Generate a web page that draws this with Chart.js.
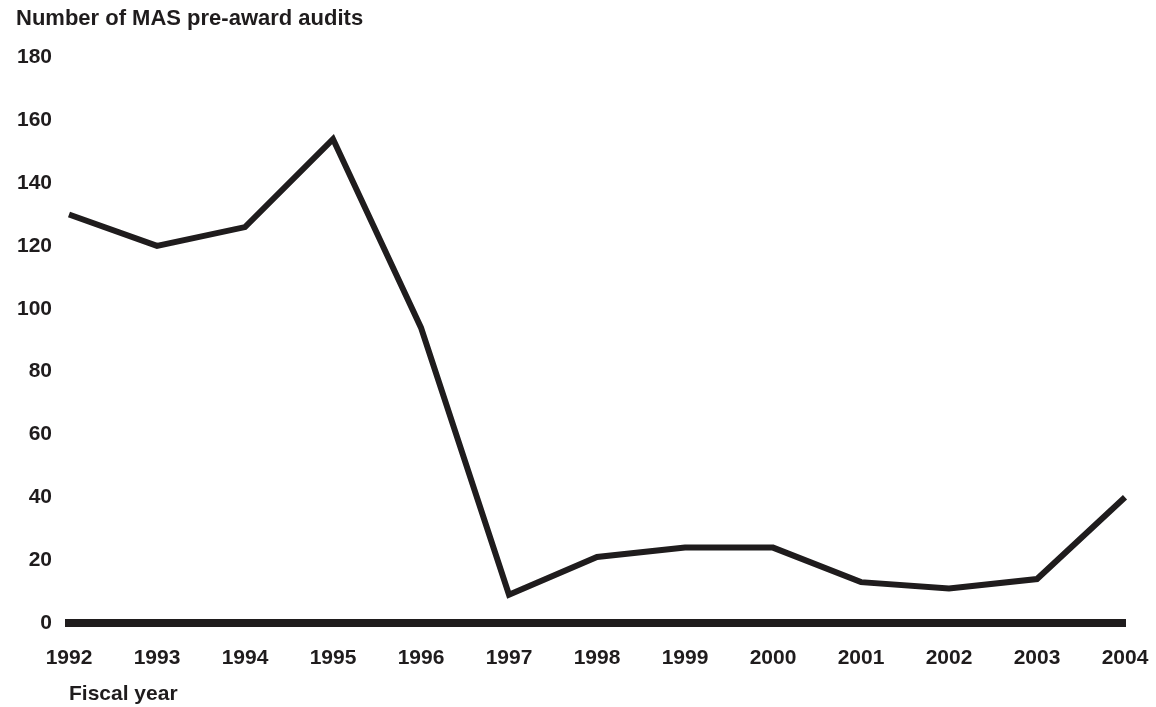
<!DOCTYPE html>
<html>
<head>
<meta charset="utf-8">
<script src="https://cdn.jsdelivr.net/npm/chart.js@4/dist/chart.umd.min.js"></script>
<style>
  html, body { margin: 0; padding: 0; background: #ffffff; }
  #wrap { width: 1156px; height: 707px; position: relative; }
</style>
</head>
<body>
<div id="wrap"><canvas id="c" width="1156" height="707"></canvas></div>
<script>
const years = ["1992","1993","1994","1995","1996","1997","1998","1999","2000","2001","2002","2003","2004"];
const audits = [130, 120, 126, 154, 94, 9, 21, 24, 24, 13, 11, 14, 40];
const yTicks = [0, 20, 40, 60, 80, 100, 120, 140, 160, 180];
const titleText = "Number of MAS pre-award audits";
const xTitleText = "Fiscal year";

const ink = "#1f1c1d";
const fontFamily = "'Liberation Sans', Arial, Helvetica, sans-serif";

new Chart(document.getElementById("c"), {
  type: "line",
  data: {
    labels: years,
    datasets: [{
      data: audits,
      borderColor: ink,
      borderWidth: 6,
      pointRadius: 0,
      tension: 0,
      fill: false,
      clip: false,
      borderJoinStyle: "miter",
      borderCapStyle: "butt"
    }]
  },
  options: {
    responsive: false,
    animation: false,
    layout: { padding: { left: 16, right: 31, top: 0, bottom: 0 } },
    plugins: {
      legend: { display: false },
      tooltip: { enabled: false },
      title: {
        display: true,
        text: titleText,
        align: "start",
        color: ink,
        font: { family: fontFamily, size: 22, weight: "bold" },
        padding: { top: 6, bottom: 25 }
      }
    },
    scales: {
      x: {
        type: "category",
        offset: false,
        grid: { display: false, drawTicks: false },
        border: { display: true, color: ink, width: 8 },
        ticks: {
          color: ink,
          padding: 23,
          maxRotation: 0,
          autoSkip: false,
          font: { family: fontFamily, size: 21, weight: "bold" }
        },
        title: {
          display: true,
          text: xTitleText,
          align: "start",
          color: ink,
          padding: { top: 0, bottom: 0 },
          font: { family: fontFamily, size: 21, weight: "bold" }
        },
        afterFit: (s) => { s.height = 84; s.paddingLeft = 0; s.paddingRight = 0; }
      },
      y: {
        min: 0,
        max: 180,
        afterBuildTicks: (s) => { s.ticks = yTicks.map(v => ({ value: v })); },
        grid: { display: false, drawTicks: false },
        border: { display: false },
        ticks: {
          color: ink,
          padding: 17,
          font: { family: fontFamily, size: 21, weight: "bold" }
        },
        afterFit: (s) => { s.width = 53; s.paddingTop = 0; s.paddingBottom = 0; }
      }
    }
  }
});
</script>
</body>
</html>
